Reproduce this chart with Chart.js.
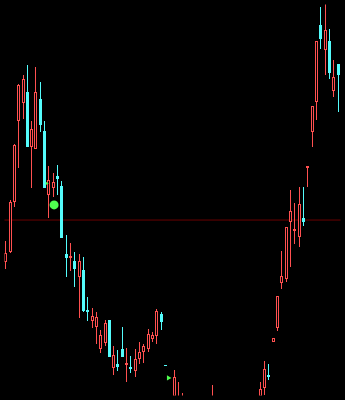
<!DOCTYPE html>
<html lang="zh">
<head>
<meta charset="UTF-8">
<title>K线图</title>
<script src="https://cdn.jsdelivr.net/npm/chart.js"></script>
<style>
  html, body { margin: 0; padding: 0; background: #000; }
  #wrap { width: 345px; height: 400px; position: relative; }
</style>
</head>
<body>
<div id="wrap"><canvas id="kChart"></canvas></div>
<script>
// daily bars (index 0 = leftmost candle)
const opens = [13.7, 14.7, 19.8, 28.1, 29.9, 31.0, 25.4, 25.2, 30.3, 27.1,
  20.5, 21.2, 22.5, 21.4, 14.5, 14.1, 13.8, 12.1, 12.8, 8.7,
  7.6, 7.0, 4.8, 5.4, 7.7, 2.8, 3.2, 4.8, 3.1, 2.9,
  2.5, 3.7, 4.5, 4.8, 5.8, 6.1, 8.3, 3.1, -0.6, -1.0,
  -2.0, -3.0, -2.0, -3.4, -2.4, -4.5, -3.2, -5.4, -3.0, -1.2,
  -3.5, -5.0, -4.0, -6.0, -4.6, -3.1, -4.3, -2.6, -1.5, -1.0,
  0.8, 2.1, 5.5, 6.9, 11.5, 11.9, 17.8, 16.8, 16.2, 18.2,
  23.3, 27.0, 30.0, 37.9, 35.3, 36.3, 31.1, 33.9, 29.0];
const highs = [15.8, 20.0, 25.7, 31.9, 32.8, 33.8, 28.1, 33.6, 32.1, 28.1,
  23.5, 22.8, 23.6, 21.9, 16.4, 15.6, 14.7, 14.5, 14.2, 10.1,
  9.0, 8.5, 6.7, 7.7, 7.7, 5.1, 4.7, 7.0, 4.9, 4.0,
  4.8, 5.5, 5.3, 6.8, 6.5, 8.9, 8.5, 3.1, -0.3, 2.6,
  1.4, 0.3, -1.0, -1.5, -1.8, -2.2, -2.6, -2.0, 1.1, -0.8,
  -2.5, -2.9, -3.2, -3.6, -2.4, -2.3, -1.6, -0.6, -0.4, 1.4,
  3.5, 3.2, 5.9, 10.2, 14.8, 17.2, 21.0, 19.7, 21.3, 21.3,
  23.5, 29.6, 36.3, 39.7, 40.5, 37.5, 34.3, 33.9, 30.4];
const lows = [12.9, 14.6, 19.3, 23.3, 28.3, 25.4, 21.2, 25.2, 27.0, 21.2,
  18.2, 20.3, 20.5, 16.1, 12.1, 12.7, 11.1, 7.9, 8.5, 7.6,
  6.9, 5.3, 4.3, 5.1, 3.9, 2.1, 2.5, 3.9, 1.4, 2.3,
  1.9, 3.2, 3.3, 4.5, 5.5, 5.3, 6.7, 3.0, -2.3, -1.5,
  -2.5, -3.5, -4.0, -4.2, -5.0, -5.2, -6.0, -5.8, -3.4, -4.0,
  -5.6, -5.5, -6.4, -6.5, -5.0, -4.8, -4.6, -3.0, -2.8, -1.5,
  0.1, 1.6, 5.5, 6.6, 10.9, 11.6, 13.1, 15.5, 15.2, 17.3,
  21.3, 25.4, 28.2, 35.4, 32.8, 32.4, 30.5, 29.0, 28.0];
const closes = [14.6, 19.8, 25.6, 31.8, 32.4, 25.4, 27.3, 31.0, 27.7, 21.2,
  22.0, 21.8, 22.1, 16.1, 14.1, 14.3, 12.9, 13.8, 8.6, 8.5,
  8.1, 8.0, 6.2, 7.4, 3.9, 4.1, 2.9, 3.9, 3.3, 2.7,
  3.7, 4.4, 5.1, 6.3, 6.2, 8.6, 7.5, 3.0, -1.8, 1.9,
  -0.5, -1.0, -3.5, -2.2, -4.6, -3.0, -5.5, -3.8, -1.0, -3.6,
  -5.0, -3.9, -6.0, -4.5, -3.0, -4.4, -2.5, -1.4, -2.2, 0.7,
  2.7, 1.9, 5.9, 10.2, 12.2, 17.2, 18.9, 17.0, 19.6, 17.8,
  23.5, 29.6, 36.3, 36.5, 37.4, 33.0, 32.6, 32.8, 30.1];

const refLevel = 17.95;                 // horizontal reference line
const dotSignals = [{x: 11.2, y: 19.5}];  // round green marker
const arrowSignals = [{x: 9.5, y: 21.7}, {x: 37.7, y: 1.8}];

const RED = '#ff5050', CYAN = '#54fcfc', GREEN = '#50ff50';

const idx = opens.map((_, i) => i);
const isUp = idx.map(i => closes[i] >= opens[i]);
const wicks = idx.map(i => ({x: i, y: [lows[i], highs[i]]}));
const bodies = idx.map(i => ({x: i, y: [opens[i], closes[i]]}));
const candleColor = isUp.map(up => up ? RED : CYAN);

// keep the thin bars on whole pixels so they stay sharp
const snapPixels = {
  id: 'snapPixels',
  afterDatasetsUpdate(chart) {
    chart.data.datasets.forEach((ds, i) => {
      if (ds.type !== 'bar') return;
      chart.getDatasetMeta(i).data.forEach(el => {
        el.x = Math.floor(el.x) + 0.5;
        el.y = Math.round(el.y);
        el.base = Math.round(el.base);
      });
    });
  }
};

new Chart(document.getElementById('kChart'), {
  data: {
    datasets: [
      {
        type: 'line',
        data: [{x: -2, y: refLevel}, {x: 80, y: refLevel}],
        borderColor: '#6a0000',
        borderWidth: 1,
        pointRadius: 0,
        order: 4
      },
      {
        type: 'bar',
        data: wicks,
        backgroundColor: candleColor,
        borderWidth: 0,
        barThickness: 1,
        grouped: false,
        inflateAmount: 0,
        order: 3
      },
      {
        type: 'bar',
        data: bodies,
        backgroundColor: isUp.map(up => up ? '#000' : CYAN),
        borderColor: candleColor,
        borderWidth: isUp.map(up => up ? 1 : 0),
        borderSkipped: false,
        barThickness: 3,
        grouped: false,
        inflateAmount: 0,
        order: 2
      },
      {
        type: 'line',
        data: dotSignals,
        showLine: false,
        pointStyle: 'circle',
        pointRadius: 4.5,
        pointBackgroundColor: GREEN,
        pointBorderWidth: 0,
        order: 1
      },
      {
        type: 'line',
        data: arrowSignals,
        showLine: false,
        pointStyle: 'triangle',
        rotation: 90,
        pointRadius: [2, 3],
        pointBackgroundColor: GREEN,
        pointBorderWidth: 0,
        order: 1
      }
    ]
  },
  options: {
    responsive: true,
    maintainAspectRatio: false,
    animation: false,
    events: [],
    layout: { padding: 0 },
    plugins: { legend: { display: false }, tooltip: { enabled: false } },
    scales: {
      x: { type: 'linear', min: -0.293, max: 77.57, offset: false, grid: { offset: false }, display: false },
      y: { type: 'linear', min: 0, max: 40, display: false }
    }
  },
  plugins: [snapPixels]
});
</script>
</body>
</html>
